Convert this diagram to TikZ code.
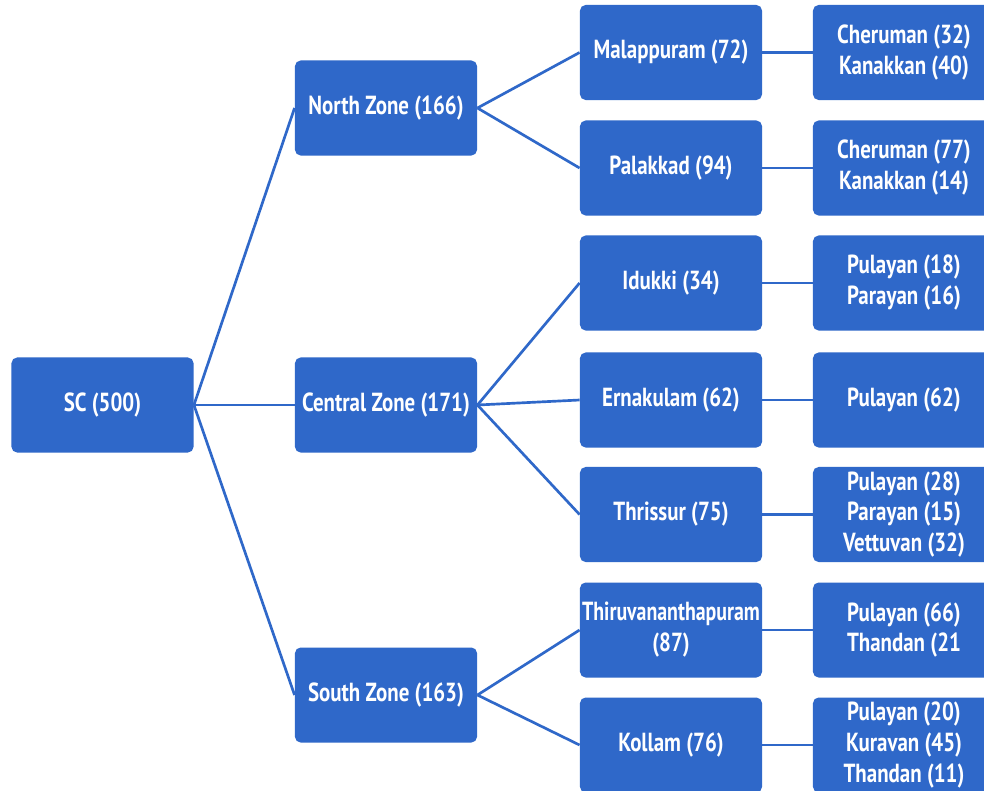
\documentclass[tikz,border=0pt]{standalone}
\usepackage{fontspec}
\newfontfamily\boxfont{PT Sans}[FakeStretch=0.8]
\usepackage{xcolor}
\usepackage{tikz}
\usetikzlibrary{positioning,calc}
\definecolor{zoneblue}{RGB}{47,104,201}
\tikzset{zbox/.style={draw=none,fill=zoneblue,rounded corners=4pt,minimum width=4.55cm,minimum height=2.375cm,inner sep=1pt,align=center,text=white,font=\boxfont\bfseries\fontsize{18.6}{22}\selectfont}}

\begin{document}
\begin{tikzpicture}[-, x=0.025cm, y=-0.025cm, semithick]
\tikzstyle{every edge}=[draw=zoneblue,line width=1.9pt]
    \clip (0,0) rectangle (984,790);
    \fill[white] (0,0) rectangle (984,790);
    % levels
    \node[zbox] (sc) at (102.5,405) {SC (500)};
    \node[zbox] (north) at (386,108) {North Zone (166)};
    \node[zbox] (central) at (386,405) {Central Zone (171)};
    \node[zbox] (south) at (386,695) {South Zone (163)};
    \node[zbox] (mal) at (671,52.5) {Malappuram (72)};
    \node[zbox] (pal) at (671,168) {Palakkad (94)};
    \node[zbox] (idu) at (671,283) {Idukki (34)};
    \node[zbox] (ern) at (671,400) {Ernakulam (62)};
    \node[zbox] (thr) at (671,514.5) {Thrissur (75)};
    \node[zbox] (tvm) at (671,630) {\scalebox{0.95}[1]{Thiruvananthapuram}\\(87)};
    \node[zbox] (kol) at (671,745) {Kollam (76)};
    \node[zbox] (malc) at (904,52.5) {Cheruman (32)\\Kanakkan (40)};
    \node[zbox] (palc) at (904,168) {Cheruman (77)\\Kanakkan (14)};
    \node[zbox] (iduc) at (904,283) {Pulayan (18)\\Parayan (16)};
    \node[zbox] (ernc) at (904,400) {Pulayan (62)};
    \node[zbox] (thrc) at (904,514.5) {Pulayan (28)\\Parayan (15)\\Vettuvan (32)};
    \node[zbox] (tvmc) at (904,630) {Pulayan (66)\\Thandan (21};
    \node[zbox] (kolc) at (904,745) {Pulayan (20)\\Kuravan (45)\\Thandan (11)};
    % connectors
    \path (sc.east) edge (north.west);
    \path (sc.east) edge (central.west);
    \path (sc.east) edge (south.west);
    \path (north.east) edge (mal.west);
    \path (north.east) edge (pal.west);
    \path (central.east) edge (idu.west);
    \path (central.east) edge (ern.west);
    \path (central.east) edge (thr.west);
    \path (south.east) edge (tvm.west);
    \path (south.east) edge (kol.west);
    \path (mal) edge (malc);
    \path (pal) edge (palc);
    \path (idu) edge (iduc);
    \path (ern) edge (ernc);
    \path (thr) edge (thrc);
    \path (tvm) edge (tvmc);
    \path (kol) edge (kolc);
\end{tikzpicture}
\end{document}
